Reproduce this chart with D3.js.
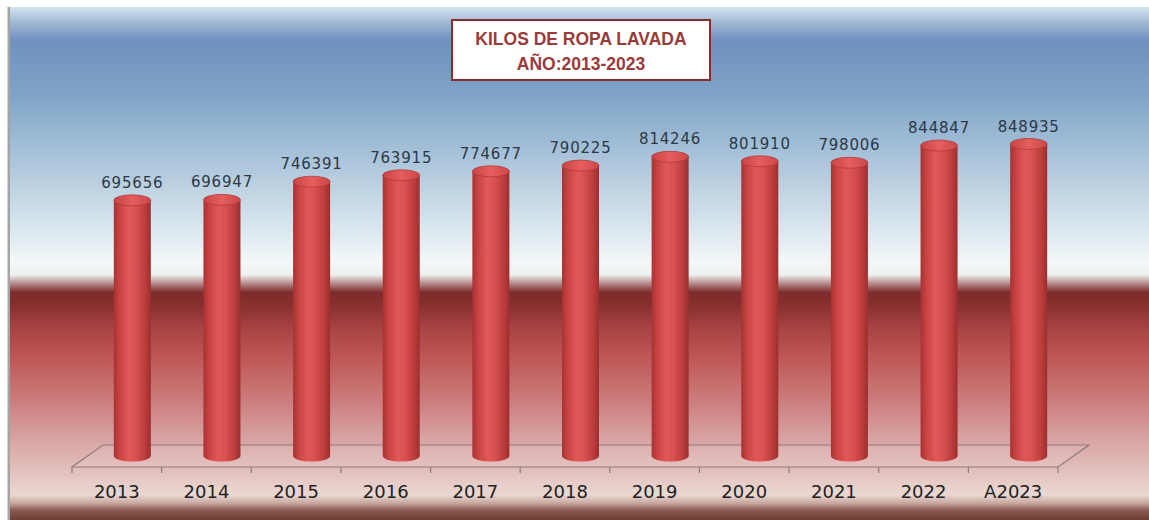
<head>
    <meta charset="utf-8">
    <style> body { margin: 0; background: #ffffff; } </style>
    <script src="https://d3js.org/d3.v7.min.js"></script>
</head>
<body>
<div id="chart"></div>
<script>
    var years = ["2013", "2014", "2015", "2016", "2017", "2018", "2019", "2020", "2021", "2022", "A2023"];
    var kilos = [695656, 696947, 746391, 763915, 774677, 790225, 814246, 801910, 798006, 844847, 848935];
    var titleLines = ["KILOS DE ROPA LAVADA", "AÑO:2013-2023"];

    var W = 1149, H = 520;

    var svg = d3.select("#chart").append("svg")
        .attr("width", W)
        .attr("height", H);

    var defs = svg.append("defs");

    // background bands
    var bg = defs.append("linearGradient")
        .attr("id", "bg")
        .attr("x1", "0").attr("x2", "0")
        .attr("y1", "0").attr("y2", "1");

    [
        [0, "#d4e4f0"], [0.025, "#a8c0d8"], [0.064, "#7190bf"], [0.103, "#7597c3"],
        [0.181, "#82a6c8"], [0.279, "#a4c0d8"], [0.376, "#c6d8e4"], [0.454, "#e2ecf2"],
        [0.497, "#f4f8f9"], [0.522, "#eef0f0"], [0.538, "#b89090"], [0.556, "#7e2c2c"],
        [0.581, "#882f2f"], [0.63, "#aa4545"], [0.687, "#c05858"], [0.766, "#cc7c7c"],
        [0.844, "#d8a4a4"], [0.912, "#e4c4c0"], [0.951, "#ead8d2"], [0.967, "#c8a8a0"],
        [0.981, "#8a5a50"], [1, "#6e3e36"]
    ].forEach(function(s) {
        bg.append("stop").attr("offset", s[0]).attr("stop-color", s[1]);
    });

    // cylinder shading
    var cylBody = defs.append("linearGradient")
        .attr("id", "cyl")
        .attr("x1", "0").attr("x2", "1")
        .attr("y1", "0").attr("y2", "0");
    [[0, "#a83232"], [0.18, "#cc4646"], [0.4, "#e05858"], [0.6, "#d85050"], [0.85, "#bc3c3c"], [1, "#9c2e2e"]]
        .forEach(function(s) {
            cylBody.append("stop").attr("offset", s[0]).attr("stop-color", s[1]);
        });

    var cylTop = defs.append("linearGradient")
        .attr("id", "cylTop")
        .attr("x1", "0").attr("x2", "1")
        .attr("y1", "0").attr("y2", "0");
    [[0, "#c84444"], [0.5, "#e65e5e"], [1, "#cc4848"]]
        .forEach(function(s) {
            cylTop.append("stop").attr("offset", s[0]).attr("stop-color", s[1]);
        });

    svg.append("rect")
        .attr("x", 10).attr("y", 7)
        .attr("width", W - 10).attr("height", H - 7)
        .attr("fill", "url(#bg)");

    svg.append("rect")
        .attr("x", 7.5).attr("y", 7)
        .attr("width", 2.5).attr("height", H - 7)
        .attr("fill", "#a4a4a4");

    // scales
    var x = d3.scaleBand()
        .domain(years)
        .range([72, 1058])
        .padding(0);

    var y = d3.scaleLinear()
        .domain([0, 1000000])
        .range([456, 88.5]);

    var depthX = 31, depthY = 22;
    var floorY = y(0) + depthY / 2;
    var rx = 18.5, ry = 5.5;

    // floor
    var x0 = x.range()[0], x1 = x.range()[1];
    svg.append("path")
        .attr("d", "M" + x0 + "," + floorY +
            "L" + x1 + "," + floorY +
            "L" + (x1 + depthX) + "," + (floorY - depthY) +
            "L" + (x0 + depthX) + "," + (floorY - depthY) + "Z")
        .attr("fill", "rgba(255,255,255,0.08)")
        .attr("stroke", "#8f7a7a")
        .attr("stroke-width", 1.2);

    var ticks = years.map(function(d) { return x(d); }).concat([x1]);
    svg.append("g").selectAll("line")
        .data(ticks)
        .enter()
        .append("line")
        .attr("x1", d => d).attr("x2", d => d)
        .attr("y1", floorY).attr("y2", floorY + 6)
        .attr("stroke", "#8f7a7a")
        .attr("stroke-width", 1.2);

    // bars
    var bars = svg.append("g").selectAll("g")
        .data(years.map(function(d, i) { return { year: d, value: kilos[i] }; }))
        .enter()
        .append("g");

    function cx(d) { return x(d.year) + x.bandwidth() / 2 + depthX / 2; }

    bars.append("ellipse")
        .attr("cx", cx)
        .attr("cy", y(0))
        .attr("rx", rx).attr("ry", ry)
        .attr("fill", "url(#cyl)");

    bars.append("rect")
        .attr("x", d => cx(d) - rx)
        .attr("y", d => y(d.value))
        .attr("width", rx * 2)
        .attr("height", d => y(0) - y(d.value))
        .attr("fill", "url(#cyl)");

    bars.append("ellipse")
        .attr("cx", cx)
        .attr("cy", d => y(d.value))
        .attr("rx", rx).attr("ry", ry)
        .attr("fill", "url(#cylTop)")
        .attr("stroke", "#b03a3a")
        .attr("stroke-width", 0.8);

    bars.append("text")
        .attr("x", cx)
        .attr("y", d => y(d.value) - ry - 7)
        .attr("text-anchor", "middle")
        .attr("font-family", "DejaVu Sans")
        .attr("font-size", 15)
        .attr("letter-spacing", 0.8)
        .attr("fill", "#2c3845")
        .text(d => d.value);

    // x labels
    svg.append("g").selectAll("text")
        .data(years)
        .enter()
        .append("text")
        .attr("x", d => x(d) + x.bandwidth() / 2)
        .attr("y", 498)
        .attr("text-anchor", "middle")
        .attr("font-family", "DejaVu Sans")
        .attr("font-size", 18)
        .attr("fill", "#222222")
        .text(d => d);

    // title box
    svg.append("rect")
        .attr("x", 452).attr("y", 20)
        .attr("width", 258).attr("height", 60)
        .attr("fill", "#ffffff")
        .attr("stroke", "#8a2c2c")
        .attr("stroke-width", 2);

    svg.append("g").selectAll("text")
        .data(titleLines)
        .enter()
        .append("text")
        .attr("x", 581)
        .attr("y", (d, i) => 45 + i * 25)
        .attr("text-anchor", "middle")
        .attr("font-family", "Liberation Sans")
        .attr("font-weight", "bold")
        .attr("font-size", 17.5)
        .attr("fill", "#9a3a3a")
        .text(d => d);
</script>
</body>
